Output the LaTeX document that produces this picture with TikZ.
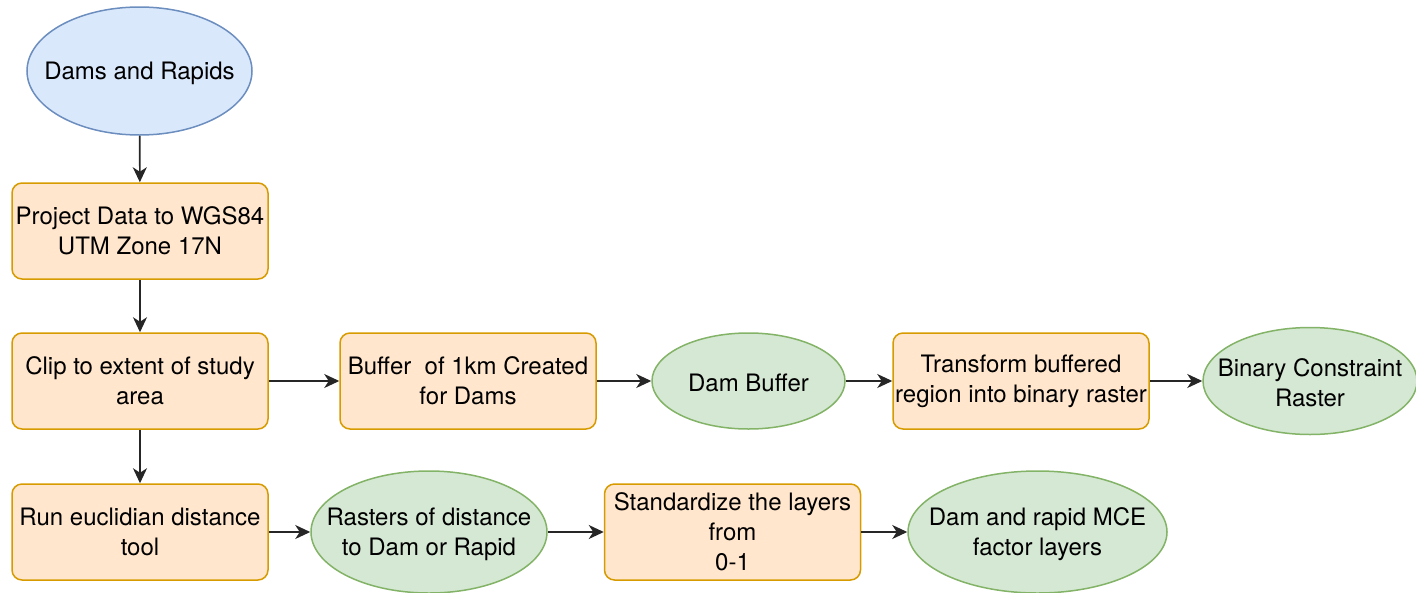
\documentclass[tikz,border=0pt]{standalone}
\usepackage{fontspec}
\setmainfont{TeX Gyre Heros}
\usetikzlibrary{arrows.meta,shapes.geometric}
\definecolor{srcfill}{HTML}{DAE8FC}
\definecolor{srcline}{HTML}{6C8EBF}
\definecolor{procfill}{HTML}{FFE6CC}
\definecolor{procline}{HTML}{D79B00}
\definecolor{resfill}{HTML}{D5E8D4}
\definecolor{resline}{HTML}{82B366}
\definecolor{linecol}{HTML}{262626}
\begin{document}
\begin{tikzpicture}[x=1pt,y=-1pt,
  font=\fontsize{24}{30}\selectfont,
  txt/.style={align=center, text=black, inner sep=0pt, yshift=-2pt},
  proc/.style={draw=procline, fill=procfill, rounded corners=10pt, line width=1.5pt,
    minimum width=256pt, minimum height=96pt, inner sep=0pt, align=center, text=black},
  src/.style={ellipse, draw=srcline, fill=srcfill, line width=1.5pt, inner sep=0pt},
  res/.style={ellipse, draw=resline, fill=resfill, line width=1.5pt, inner sep=0pt},
  flow/.style={-{Stealth[length=15pt,width=14pt,inset=4.5pt]}, line width=1.6pt, draw=linecol},
]
\useasboundingbox (0,0) rectangle (1416,592);

% input data
\node[src, minimum width=225pt, minimum height=128pt,
  label={[txt]center:Dams and Rapids}] (dams) at (139.5,71) {};

% preparation steps
\node[proc] (proj) at (140,231) {Project Data to WGS84\\UTM Zone 17N};
\node[proc] (clip) at (140,381) {Clip to extent of study\\area};
\node[proc] (run)  at (140,532) {Run euclidian distance\\tool};

% constraint branch
\node[proc] (buf) at (468,381) {Buffer\ \ of 1km Created\\for Dams};
\node[res, minimum width=193pt, minimum height=96pt,
  label={[txt]center:Dam Buffer}] (dambuf) at (748.5,381) {};
\node[proc] (trans) at (1021,381) {Transform buffered\\region into binary raster};
\node[res, minimum width=214pt, minimum height=107pt,
  label={[txt]center:{Binary Constraint\\Raster}}] (binary) at (1310,381) {};

% factor branch
\node[res, minimum width=236pt, minimum height=122pt,
  label={[txt]center:{Rasters of distance\\to Dam or Rapid}}] (rast) at (429,532) {};
\node[proc] (std) at (732.5,532) {Standardize the layers\\from\\0-1};
\node[res, minimum width=259pt, minimum height=122pt,
  label={[txt]center:{Dam and rapid MCE\\factor layers}}] (mce) at (1037.5,532) {};

% connectors
\draw[flow] (dams) -- (proj);
\draw[flow] (proj) -- (clip);
\draw[flow] (clip) -- (run);
\draw[flow] (clip) -- (buf);
\draw[flow] (buf) -- (dambuf);
\draw[flow] (dambuf) -- (trans);
\draw[flow] (trans) -- (binary);
\draw[flow] (run) -- (rast);
\draw[flow] (rast) -- (std);
\draw[flow] (std) -- (mce);
\end{tikzpicture}
\end{document}
